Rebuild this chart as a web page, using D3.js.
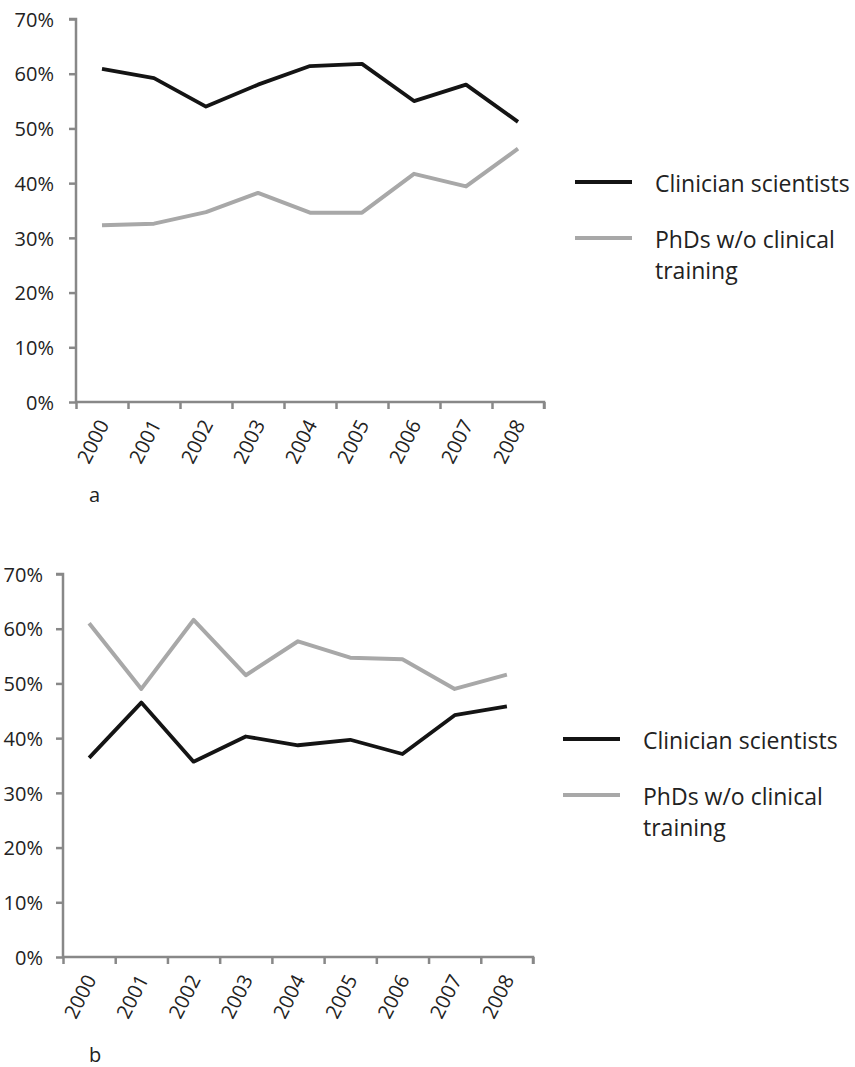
<!DOCTYPE html>
<html>
<head>
<meta charset="utf-8">
<script src="https://cdn.jsdelivr.net/npm/d3@7"></script>
<style>
  body { margin: 0; background: #fff; }
  text { font-family: "Open Sans", sans-serif; fill: #222; }
</style>
</head>
<body>
<svg></svg>
<script>
// 資料
const years = ["2000","2001","2002","2003","2004","2005","2006","2007","2008"];
const yTicks = [0, 0.1, 0.2, 0.3, 0.4, 0.5, 0.6, 0.7];
const seriesNames = ["Clinician scientists", "PhDs w/o clinical training"];
const clinicianA = [0.609, 0.592, 0.540, 0.580, 0.614, 0.618, 0.550, 0.580, 0.512];
const phdA       = [0.323, 0.326, 0.347, 0.382, 0.346, 0.346, 0.417, 0.394, 0.463];
const clinicianB = [0.364, 0.465, 0.357, 0.403, 0.387, 0.397, 0.371, 0.442, 0.458];
const phdB       = [0.610, 0.490, 0.616, 0.515, 0.577, 0.547, 0.544, 0.490, 0.516];

const svg = d3.select("svg").attr("width", 855).attr("height", 1067);

const axisColor = "#888";
const darkLine = "#141414";
const lightLine = "#a8a8a8";

function drawPanel(p) {
  const g = svg.append("g");
  const y = d3.scaleLinear().domain([0, 0.7]).range([p.bottom, p.top]);
  const x = d3.scaleBand().domain(years).range([p.left, p.right]);
  const xb = d3.scaleLinear().domain([0, years.length]).range([p.left, p.right]);

  // y 軸
  const ya = g.append("g")
    .attr("transform", `translate(${p.left},0)`)
    .call(d3.axisLeft(y).tickValues(yTicks).tickSize(7).tickFormat(d3.format(".0%")));
  ya.select(".domain").attr("stroke", axisColor).attr("stroke-width", 2.5).attr("d", `M-7,${p.top}H0V${p.bottom}`);
  ya.selectAll(".tick line").attr("stroke", axisColor).attr("stroke-width", 2.5);
  ya.selectAll(".tick text").attr("x", -p.labelGap).attr("dy", "0.36em")
    .style("font-size", "20px").attr("fill", "#222");

  // x 軸刻度 (在分類邊界)
  const xa = g.append("g")
    .attr("transform", `translate(0,${p.bottom})`)
    .call(d3.axisBottom(xb).tickValues(d3.range(years.length + 1)).tickSize(7).tickFormat(""));
  xa.select(".domain").attr("stroke", axisColor).attr("stroke-width", 2.5).attr("d", `M${p.left},0H${p.right}V7`);
  xa.selectAll(".tick line").attr("stroke", axisColor).attr("stroke-width", 2.5);

  // x 軸標籤
  const xl = g.append("g")
    .attr("transform", `translate(0,${p.bottom})`)
    .call(d3.axisBottom(x).tickSize(0).tickPadding(0));
  xl.select(".domain").remove();
  xl.selectAll(".tick text")
    .attr("y", 0).attr("dy", 0)
    .attr("transform", "translate(3,20) rotate(-63)")
    .attr("text-anchor", "end")
    .attr("dominant-baseline", "middle")
    .style("font-size", "20px").attr("fill", "#222");

  const line = d3.line().x((d, i) => x(years[i]) + x.bandwidth() / 2).y(d => y(d));

  g.append("path").datum(p.light).attr("d", line)
    .attr("fill", "none").attr("stroke", lightLine).attr("stroke-width", 4).attr("stroke-linejoin", "round");
  g.append("path").datum(p.dark).attr("d", line)
    .attr("fill", "none").attr("stroke", darkLine).attr("stroke-width", 3.8).attr("stroke-linejoin", "round");

  // 圖例
  const lg = g.append("g").attr("transform", `translate(${p.legendX},${p.legendY})`);
  lg.append("line").attr("x1", 0).attr("x2", 57).attr("y1", 0).attr("y2", 0)
    .attr("stroke", darkLine).attr("stroke-width", 4);
  lg.append("text").attr("x", 80).attr("y", 10).text(seriesNames[0]).style("font-size", "23px");
  lg.append("line").attr("x1", 0).attr("x2", 57).attr("y1", 56).attr("y2", 56)
    .attr("stroke", lightLine).attr("stroke-width", 4);
  lg.append("text").attr("x", 80).attr("y", 66).text("PhDs w/o clinical").style("font-size", "23px");
  lg.append("text").attr("x", 80).attr("y", 97).text("training").style("font-size", "23px");

  // 子圖標籤
  g.append("text").attr("x", p.tagX).attr("y", p.tagY).text(p.tag).style("font-size", "20px");
}

drawPanel({ top: 19, bottom: 402, left: 76, right: 544, labelGap: 22,
  dark: clinicianA, light: phdA, legendX: 575, legendY: 182, tag: "a", tagX: 89, tagY: 502 });
drawPanel({ top: 574, bottom: 957, left: 63, right: 533, labelGap: 20,
  dark: clinicianB, light: phdB, legendX: 563, legendY: 739, tag: "b", tagX: 89, tagY: 1062 });
</script>
</body>
</html>
